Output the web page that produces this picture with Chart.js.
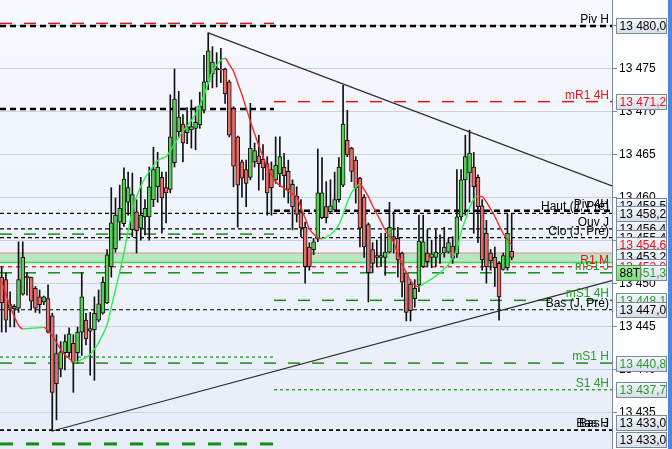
<!DOCTYPE html>
<html lang="fr">
<head>
    <meta charset="UTF-8">
    <title>Graphique 88T</title>
    <style>
        html, body { margin: 0; padding: 0; background: #fcfdff; }
        .frame { width: 668px; height: 449px; border-right: 4px solid #4c86e2; }
        canvas { display: block; }
    </style>
</head>
<body>

    <div class="frame"><canvas id="chart" width="668" height="449"></canvas></div>

    <script src="https://cdn.jsdelivr.net/npm/chart.js@4.4.1/dist/chart.umd.min.js"></script>

    <script>
        // Candles (88 ticks each), oldest first
        const opens = [
            13450.8, 13450.5, 13447.2, 13447.4, 13447.2, 13448.8, 13450.9, 13450.8, 13449.5, 13448.5,
            13447.9, 13448.3, 13446.3, 13441.9, 13440.1, 13442.0, 13442.0, 13443.1, 13442.0, 13444.4,
            13445.8, 13444.5, 13444.7, 13445.8, 13446.6, 13447.8, 13452.0, 13454.1, 13457.2, 13457.0,
            13459.5, 13456.3, 13458.4, 13456.5, 13457.8, 13457.8, 13459.8, 13461.3, 13462.4, 13461.2,
            13461.0, 13464.1, 13467.7, 13468.6, 13467.6, 13467.9, 13468.1, 13468.5, 13470.2, 13473.5,
            13474.4, 13475.1, 13475.0, 13475.0, 13473.5, 13470.4, 13467.1, 13464.2, 13463.3, 13462.4,
            13464.2, 13464.9, 13464.5, 13464.0, 13463.3, 13462.1, 13462.8, 13463.6, 13463.1, 13461.6,
            13460.2, 13458.3, 13456.6, 13454.3, 13454.0, 13455.2, 13457.7, 13459.0, 13458.4, 13458.6,
            13459.8, 13461.5, 13466.7, 13465.8, 13464.4, 13462.3, 13460.1, 13456.9, 13454.0, 13453.3,
            13453.1, 13453.1, 13453.7, 13455.5, 13455.3, 13453.6, 13451.3, 13450.0, 13448.3, 13449.9,
            13452.0, 13453.6, 13453.1, 13453.1, 13453.5, 13453.6, 13453.7, 13454.4, 13453.5, 13457.8,
            13462.1, 13462.9, 13463.6, 13462.4, 13459.1, 13455.9, 13453.6, 13453.1, 13452.4, 13451.7,
            13451.9, 13453.8
        ];
        const highs = [
            13452.0, 13451.3, 13449.1, 13447.6, 13454.9, 13454.9, 13451.3, 13450.8, 13449.7, 13449.3,
            13448.6, 13449.9, 13446.6, 13444.1, 13443.3, 13444.1, 13444.9, 13444.1, 13445.0, 13451.3,
            13446.6, 13446.7, 13448.5, 13449.3, 13450.8, 13454.0, 13461.2, 13460.0, 13461.5, 13463.5,
            13463.0, 13462.9, 13459.8, 13462.4, 13459.8, 13463.6, 13465.9, 13465.3, 13463.0, 13463.0,
            13472.0, 13475.0, 13472.4, 13469.7, 13470.5, 13471.4, 13470.6, 13472.3, 13476.6, 13479.2,
            13477.6, 13476.9, 13477.4, 13475.1, 13473.7, 13470.6, 13467.2, 13464.4, 13464.4, 13471.0,
            13466.4, 13467.3, 13466.2, 13464.8, 13464.2, 13467.1, 13467.1, 13465.2, 13464.4, 13462.1,
            13461.3, 13459.8, 13457.2, 13454.8, 13455.3, 13465.7, 13464.7, 13461.9, 13462.1, 13463.0,
            13464.7, 13473.1, 13470.2, 13465.9, 13464.8, 13462.4, 13460.4, 13457.1, 13454.8, 13455.1,
            13455.9, 13455.9, 13459.5, 13458.4, 13456.6, 13453.7, 13451.4, 13450.5, 13450.5, 13458.0,
            13458.0, 13456.3, 13455.1, 13456.3, 13455.7, 13456.6, 13455.3, 13455.5, 13463.3, 13463.3,
            13467.3, 13467.9, 13465.3, 13462.7, 13459.8, 13457.4, 13454.0, 13454.3, 13452.6, 13453.6,
            13458.1, 13458.1
        ];
        const lows = [
            13444.4, 13444.4, 13445.0, 13445.0, 13446.7, 13448.7, 13448.7, 13447.0, 13446.7, 13446.6,
            13447.6, 13444.3, 13432.9, 13434.2, 13439.2, 13440.0, 13441.5, 13437.4, 13440.8, 13441.7,
            13442.9, 13439.4, 13438.8, 13445.6, 13446.5, 13447.7, 13450.8, 13453.7, 13455.1, 13456.7,
            13458.0, 13455.5, 13453.6, 13455.1, 13455.7, 13455.1, 13459.0, 13459.5, 13455.9, 13457.1,
            13460.6, 13463.6, 13467.0, 13464.2, 13466.3, 13465.8, 13465.6, 13468.1, 13469.9, 13472.6,
            13472.8, 13472.9, 13473.4, 13471.0, 13467.1, 13461.3, 13456.6, 13460.1, 13459.0, 13462.1,
            13463.6, 13460.9, 13462.1, 13458.0, 13458.0, 13461.7, 13461.3, 13460.1, 13459.4, 13456.3,
            13457.2, 13455.5, 13450.1, 13451.6, 13453.4, 13454.9, 13457.6, 13457.1, 13458.3, 13458.4,
            13459.5, 13461.3, 13464.8, 13461.9, 13459.4, 13454.3, 13453.1, 13447.9, 13451.3, 13452.0,
            13452.0, 13451.0, 13453.6, 13453.6, 13450.8, 13448.5, 13445.7, 13445.7, 13447.3, 13449.1,
            13451.9, 13452.0, 13451.9, 13452.0, 13452.4, 13453.1, 13453.6, 13452.4, 13453.1, 13457.4,
            13458.0, 13459.5, 13455.9, 13454.8, 13451.6, 13450.1, 13451.6, 13449.7, 13445.8, 13451.6,
            13451.6, 13452.8
        ];
        const closes = [
            13447.8, 13445.8, 13447.6, 13447.1, 13450.5, 13453.1, 13450.7, 13448.0, 13447.2, 13447.6,
            13448.5, 13444.4, 13437.4, 13438.4, 13442.1, 13443.3, 13444.2, 13440.9, 13444.4, 13448.5,
            13443.6, 13444.8, 13446.6, 13447.7, 13450.2, 13453.4, 13457.1, 13458.0, 13458.8, 13462.2,
            13461.2, 13460.4, 13456.2, 13458.0, 13458.8, 13461.3, 13463.3, 13463.6, 13460.0, 13460.6,
            13467.1, 13471.5, 13469.4, 13466.4, 13468.3, 13468.3, 13468.8, 13470.7, 13473.5, 13477.1,
            13475.8, 13474.9, 13474.9, 13472.1, 13467.3, 13463.7, 13461.5, 13462.3, 13461.7, 13465.8,
            13465.5, 13464.0, 13463.5, 13460.6, 13461.2, 13463.8, 13464.8, 13462.6, 13461.0, 13459.0,
            13458.1, 13456.5, 13452.0, 13452.0, 13454.9, 13460.6, 13460.6, 13457.7, 13459.1, 13459.8,
            13463.6, 13468.6, 13465.0, 13463.1, 13461.2, 13456.5, 13454.3, 13451.3, 13452.4, 13453.1,
            13453.3, 13453.7, 13456.6, 13455.2, 13452.8, 13450.2, 13446.7, 13446.9, 13449.5, 13455.0,
            13454.9, 13452.6, 13453.5, 13453.7, 13453.6, 13454.3, 13454.8, 13453.0, 13457.8, 13462.1,
            13464.8, 13465.2, 13461.3, 13459.0, 13452.8, 13452.0, 13452.7, 13451.9, 13448.5, 13453.3,
            13455.9, 13453.1
        ];

        // Moving average drawn over the candles
        const maValues = [
            13450.3, 13448.8, 13447.4, 13446.2, 13445.2, 13444.78, 13444.81, 13444.85, 13444.88, 13444.92,
            13444.95, 13444.55, 13443.98, 13443.21, 13442.38, 13441.76, 13441.35, 13440.94, 13440.97, 13441.22,
            13441.44, 13441.83, 13442.42, 13443.19, 13444.16, 13445.24, 13447.31, 13449.37, 13451.41, 13453.66,
            13456.16, 13458.57, 13460.11, 13461.36, 13462.32, 13463.09, 13463.72, 13464.36, 13464.60, 13464.79,
            13465.50, 13466.26, 13467.02, 13467.74, 13468.37, 13469.01, 13469.76, 13470.72, 13471.96, 13473.37,
            13474.68, 13475.46, 13476.02, 13476.24, 13475.52, 13474.74, 13473.38, 13472.01, 13470.48, 13468.92,
            13467.46, 13466.09, 13464.80, 13463.68, 13462.67, 13461.89, 13461.47, 13461.14, 13460.80, 13460.47,
            13460.15, 13458.88, 13457.64, 13456.40, 13455.81, 13455.42, 13455.26, 13455.46, 13455.75, 13456.21,
            13456.88, 13458.10, 13459.52, 13460.60, 13461.22, 13461.62, 13460.97, 13460.15, 13459.09, 13458.17,
            13457.24, 13456.23, 13455.54, 13454.83, 13453.47, 13452.30, 13451.33, 13450.40, 13449.82, 13449.68,
            13449.98, 13450.29, 13450.60, 13450.94, 13451.28, 13451.76, 13452.24, 13453.04, 13454.04, 13456.03,
            13457.48, 13458.85, 13459.85, 13460.22, 13460.16, 13459.52, 13458.73, 13457.85, 13456.83, 13455.86,
            13455.19, 13454.53
        ];

        // Price axis
        const yTicks = [13435, 13440, 13445, 13450, 13455, 13460, 13465, 13470, 13475, 13480];
        const yMin = 13430.81, yMax = 13483.02;
        const xMin = -0.4, xMax = 144.8;     // visible range, in candles
        const SESSION_4H = 64.6;             // candle where the current 4H block starts

        // Levels
        const levelNames  = ['Piv H', '', 'mR1 4H', '', 'Piv 4H', 'Haut (J, Pré)', 'Ouv J', 'Clo (J, Pré)', '', '',
                             'R1 M', 'mS1 J', 'mS1 4H', 'Bas (J, Pré)', '', 'mS1 H', 'S1 4H', 'Bas J', 'Bas H', ''];
        const levelValues = [13480.0, 13480.3, 13471.2, 13470.35, 13458.5, 13458.2, 13456.4, 13455.4, 13455.8, 13454.6,
                             13452.0, 13451.3, 13448.1, 13447.0, 13441.5, 13440.8, 13437.7, 13433.0, 13433.0, 13431.4];
        const levelFrom   = [xMin, xMin, SESSION_4H, xMin, SESSION_4H, xMin, xMin, xMin, xMin, xMin,
                             xMin, xMin, SESSION_4H, xMin, xMin, xMin, SESSION_4H, xMin, xMin, xMin];
        const levelTo     = [xMax, SESSION_4H, xMax, SESSION_4H, xMax, xMax, xMax, xMax, SESSION_4H, xMax,
                             xMax, xMax, xMax, xMax, SESSION_4H, xMax, xMax, xMax, xMax, SESSION_4H];

        // Zone shaded in green
        const bandLow = 13452.5, bandHigh = 13453.6;

        // Trend lines (candle, price)
        const trendFromX = [49, 12];
        const trendFromY = [13479.2, 13432.9];
        const trendToX   = [xMax, xMax];
        const trendToY   = [13461.4, 13450.4];

        const lastPrice = 13453.2;
        const timerText = '88T';
        const timerPrice = 13451.3;

        // ---- styles ----
        const GREEN = '#55d055', RED = '#e66f6c';
        const LEVEL_STYLE = {
            pivot:     { color: '#000',    width: 2.5, dash: [6, 4],   text: '#000' },
            thin:      { color: '#000',    width: 1.2, dash: [4, 3],   text: '#000' },
            red:       { color: '#e8141a', width: 1.5, dash: [12, 12], text: '#e8141a' },
            redFine:   { color: '#e8141a', width: 1.3, dash: [4, 4],   text: '#e8141a' },
            green:     { color: '#168c16', width: 1.5, dash: [12, 12], text: '#2a9a2a' },
            greenFine: { color: '#168c16', width: 1.2, dash: [3, 3],   text: '#2a9a2a' },
            greenBold: { color: '#168c16', width: 3,   dash: [13, 13], text: '#2a9a2a' },
            none:      { color: null,                                  text: '#e8141a' }
        };
        const levelKinds = ['pivot', 'red', 'red', 'pivot', 'pivot', 'thin', 'thin', 'thin', 'green', 'none',
                            'redFine', 'green', 'green', 'thin', 'greenFine', 'green', 'greenFine', 'thin', 'thin', 'greenBold'];

        const FONT = 'Liberation Sans, Arial, sans-serif';
        Chart.defaults.font.family = FONT;
        Chart.defaults.font.size = 12;

        function fmtTick(v) {
            const s = String(Math.round(v));
            return s.slice(0, -3) + ' ' + s.slice(-3);
        }
        function fmtPrice(v) {
            const s = v.toFixed(1).replace('.', ',');
            return s.slice(0, -5) + ' ' + s.slice(-5);
        }

        const idx = opens.map((_, i) => i);
        const datasets = [];

        // shaded zone
        datasets.push({
            type: 'line', data: [{ x: xMin, y: bandHigh }, { x: xMax, y: bandHigh }],
            borderColor: '#e58a86', borderWidth: 1, pointRadius: 0, fill: false, order: 20
        });
        datasets.push({
            type: 'line', data: [{ x: xMin, y: bandLow }, { x: xMax, y: bandLow }],
            borderColor: '#45d645', borderWidth: 1.5, pointRadius: 0,
            fill: '-1', backgroundColor: 'rgba(96, 210, 110, 0.38)', order: 20
        });

        // horizontal levels
        levelValues.forEach((v, k) => {
            const st = LEVEL_STYLE[levelKinds[k]];
            if (!st.color) return;
            datasets.push({
                type: 'line', data: [{ x: levelFrom[k], y: v }, { x: levelTo[k], y: v }],
                borderColor: st.color, borderWidth: st.width, borderDash: st.dash,
                pointRadius: 0, fill: false, order: 10
            });
        });

        // wicks and bodies
        datasets.push({
            type: 'bar', data: idx.map(i => ({ x: i, y: [lows[i], highs[i]] })),
            backgroundColor: '#111', barThickness: 1, grouped: false, order: 6
        });
        datasets.push({
            type: 'bar', data: idx.map(i => ({ x: i, y: [opens[i], closes[i]] })),
            backgroundColor: idx.map(i => closes[i] >= opens[i] ? GREEN : RED),
            borderColor: '#111', borderWidth: 1, borderSkipped: false,
            barThickness: 4, grouped: false, order: 5
        });

        // moving average, green when rising, red when falling
        datasets.push({
            type: 'line', data: idx.map(i => ({ x: i, y: maValues[i] })),
            borderColor: '#2cef4c', borderWidth: 1.4, pointRadius: 0,
            cubicInterpolationMode: 'monotone', fill: false, order: 2,
            segment: { borderColor: c => c.p1.parsed.y >= c.p0.parsed.y ? '#2cef4c' : '#f52a2a' }
        });

        // trend lines
        trendFromX.forEach((x0, k) => {
            datasets.push({
                type: 'line', data: [{ x: x0, y: trendFromY[k] }, { x: trendToX[k], y: trendToY[k] }],
                borderColor: '#2b2b2b', borderWidth: 1.2, pointRadius: 0, fill: false, order: 1
            });
        });

        const backdrop = {
            id: 'backdrop',
            beforeDraw(chart) {
                const { ctx, chartArea: a, width, height } = chart;
                ctx.save();
                ctx.fillStyle = '#fcfdff';
                ctx.fillRect(0, 0, width, height);
                const g = ctx.createLinearGradient(0, a.top, 0, a.bottom);
                g.addColorStop(0, '#f6f9fe');
                g.addColorStop(1, '#e7edf8');
                ctx.fillStyle = g;
                ctx.fillRect(a.left, a.top, a.right - a.left, a.bottom - a.top);
                ctx.restore();
            }
        };

        function drawBox(ctx, x, yc, w, text, color, c1, c2, stroke) {
            const h = 15, top = Math.round(yc - h / 2) + 0.5;
            const g = ctx.createLinearGradient(0, top, 0, top + h);
            g.addColorStop(0, c1);
            g.addColorStop(1, c2);
            ctx.fillStyle = g;
            ctx.fillRect(x, top, w, h);
            ctx.strokeStyle = stroke;
            ctx.lineWidth = 1;
            ctx.strokeRect(x, top, w, h);
            ctx.fillStyle = color;
            ctx.textAlign = 'left';
            ctx.textBaseline = 'middle';
            ctx.fillText(text, x + 3, top + h / 2 + 1);
        }

        const levelLabels = {
            id: 'levelLabels',
            afterDatasetsDraw(chart) {
                const { ctx, chartArea: a, scales: { y } } = chart;
                ctx.save();
                ctx.font = '12px ' + FONT;
                ctx.textAlign = 'right';
                ctx.textBaseline = 'alphabetic';
                levelValues.forEach((v, k) => {
                    if (!levelNames[k] || levelTo[k] !== xMax) return;
                    ctx.fillStyle = LEVEL_STYLE[levelKinds[k]].text;
                    ctx.fillText(levelNames[k], a.right - 3, y.getPixelForValue(v) - 3);
                });
                ctx.restore();
            },
            afterDraw(chart) {
                const { ctx, chartArea: a, scales: { y } } = chart;
                const boxes = [];
                levelValues.forEach((v, k) => {
                    if (levelTo[k] !== xMax) return;
                    boxes.push({ v, color: LEVEL_STYLE[levelKinds[k]].text });
                });
                boxes.push({ v: lastPrice, color: '#000' });
                boxes.sort((p, q) => q.v - p.v);
                boxes.forEach(b => { b.y = y.getPixelForValue(b.v); });
                // boxes sitting on the same price are pushed apart
                for (let k = 1; k < boxes.length; k++) {
                    const d = boxes[k].y - boxes[k - 1].y;
                    if (d < 1) { boxes[k - 1].y -= 8; boxes[k].y += 9; }
                    else if (d < 4) { boxes[k - 1].y -= 8 - d; }
                }
                ctx.save();
                ctx.font = '12px ' + FONT;
                const x = a.right + 4.5;
                boxes.forEach(b => drawBox(ctx, x, b.y, 50, fmtPrice(b.v), b.color, '#f4f7fb', '#d6deea', '#7d8a98'));
                drawBox(ctx, x, y.getPixelForValue(timerPrice), 24, timerText, '#000', '#a6eea6', '#78d878', '#5b9a5b');
                ctx.restore();
            }
        };

        new Chart(document.getElementById('chart'), {
            type: 'bar',
            data: { datasets },
            options: {
                responsive: false,
                animation: false,
                events: [],
                layout: { padding: 0 },
                plugins: { legend: { display: false }, tooltip: { enabled: false } },
                scales: {
                    x: { type: 'linear', min: xMin, max: xMax, display: false, offset: false },
                    y: {
                        position: 'right',
                        min: yMin,
                        max: yMax,
                        afterBuildTicks: s => { s.ticks = yTicks.map(value => ({ value })); },
                        afterFit: s => { s.width = 56; s.paddingTop = 0; s.paddingBottom = 0; },
                        ticks: { callback: v => fmtTick(v), color: '#000', font: { size: 12 }, padding: 2 },
                        grid: { color: '#cbd2de', lineWidth: 1, tickLength: 5, tickColor: '#7d8a98' },
                        border: { color: '#7d8a98', width: 1 }
                    }
                }
            },
            plugins: [backdrop, levelLabels]
        });
    </script>

</body>
</html>
